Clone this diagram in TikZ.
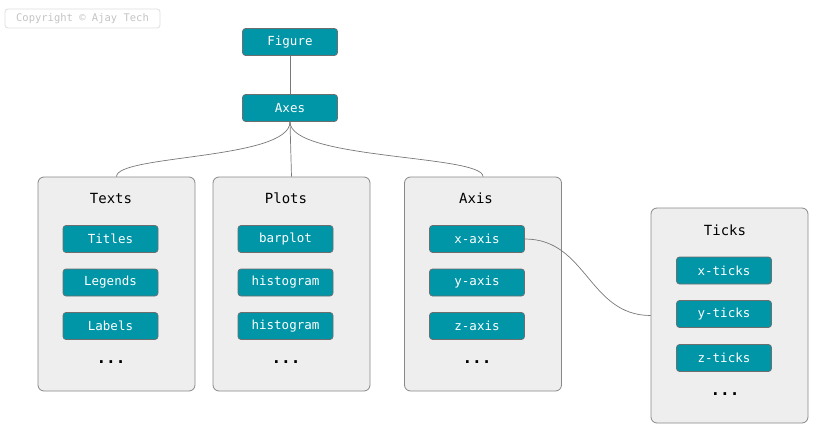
\documentclass[tikz,border=0pt]{standalone}
\usepackage{fontspec}
\setmonofont{DejaVu Sans Mono}
\definecolor{tealfill}{RGB}{0,150,167}
\definecolor{itemborder}{RGB}{110,110,110}
\definecolor{groupfill}{RGB}{238,238,238}
\definecolor{groupborder}{RGB}{136,136,136}
\definecolor{linkgray}{RGB}{120,120,120}
\definecolor{copyfg}{RGB}{195,195,195}
\definecolor{copybd}{RGB}{222,222,222}
\begin{document}
\begin{tikzpicture}[x=1pt,y=-1pt,
  item/.style={draw=itemborder, fill=tealfill, rounded corners=3pt, minimum width=95pt, minimum height=27pt, inner sep=0pt, text=white, font=\ttfamily\fontsize{12.5}{12.5}\selectfont, line width=0.7pt},
  group/.style={draw=groupborder, fill=groupfill, rounded corners=6pt, minimum width=157pt, minimum height=214pt, inner sep=0pt, line width=0.8pt},
  gtitle/.style={font=\ttfamily\fontsize{14}{14}\selectfont, text=black, inner sep=0pt},
  more/.style={font=\ttfamily\bfseries\fontsize{16}{16}\selectfont, text=black, inner sep=0pt},
  link/.style={draw=linkgray, line width=0.7pt},
  copy/.style={draw=copybd, rounded corners=3pt, minimum width=155pt, minimum height=19pt, inner sep=0pt, text=copyfg, font=\ttfamily\fontsize{10.5}{10.5}\selectfont, line width=0.8pt}]
\useasboundingbox (0,0) rectangle (815,431);

\node[copy] (copyright) at (82.5,18.5) {Copyright © Ajay Tech};

\node[item] (figure) at (290,42) {Figure};
\node[item] (axes) at (290,108) {Axes};

% groups
\node[group] (texts) at (116.5,284) {};
\node[group] (plots) at (291.5,284) {};
\node[group] (axis) at (483,284) {};
\node[group, minimum height=215pt] (ticks) at (729.5,315.5) {};

% Texts
\node[gtitle] (textsT) at (111,198) {Texts};
\node[item] (titles) at (110.5,239) {Titles};
\node[item] (legends) at (110.5,282.5) {Legends};
\node[item] (labels) at (110.5,326) {Labels};
\node[more] (textsM) at (111,362) {...};

% Plots
\node[gtitle] (plotsT) at (286,198) {Plots};
\node[item] (barplot) at (285.5,239) {barplot};
\node[item] (hist1) at (285.5,282.5) {histogram};
\node[item] (hist2) at (285.5,326) {histogram};
\node[more] (plotsM) at (286,362) {...};

% Axis
\node[gtitle] (axisT) at (476,198) {Axis};
\node[item] (xaxis) at (477,239) {x-axis};
\node[item] (yaxis) at (477,282.5) {y-axis};
\node[item] (zaxis) at (477,326) {z-axis};
\node[more] (axisM) at (477,362) {...};

% Ticks
\node[gtitle] (ticksT) at (725,230) {Ticks};
\node[item] (xticks) at (724,270.5) {x-ticks};
\node[item] (yticks) at (724,314) {y-ticks};
\node[item] (zticks) at (724,358) {z-ticks};
\node[more] (ticksM) at (725,394) {...};

% connectors
\draw[link] (figure.south) -- (axes.north);
\draw[link] (axes.south) .. controls +(0,38) and +(0,-22) .. (texts.north);
\draw[link] (axes.south) .. controls +(0,28) and +(0,-28) .. (plots.north);
\draw[link] (axes.south) .. controls +(0,38) and +(0,-22) .. (axis.north);
\draw[link] (xaxis.east) .. controls +(62,0) and +(-62,0) .. (ticks.west);
\end{tikzpicture}
\end{document}
